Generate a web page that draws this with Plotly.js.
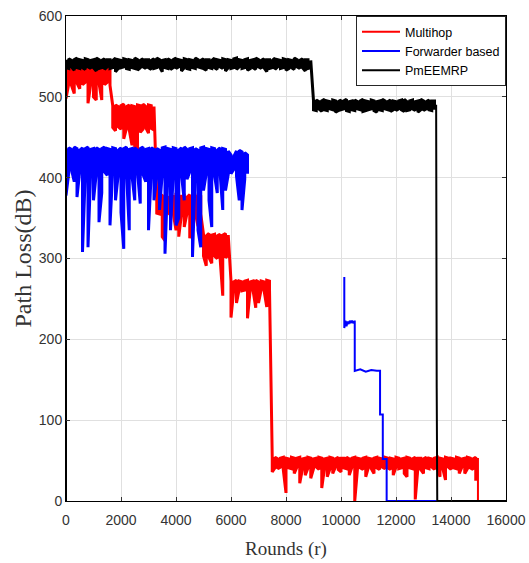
<!DOCTYPE html>
<html><head><meta charset="utf-8">
<script src="https://cdn.plot.ly/plotly-3.0.1.min.js"></script>
<style>html,body{margin:0;padding:0;background:#fff}#chart{width:529px;height:563px}</style>
</head><body><div id="chart"></div>
<script>
const seriesNames = ['Multihop', 'Forwarder based', 'PmEEMRP'];

const xTickValues = [0, 2000, 4000, 6000, 8000, 10000, 12000, 14000, 16000];
const xTickLabels = ['0', '2000', '4000', '6000', '8000', '10000', '12000', '14000', '16000'];
const yTickValues = [0, 100, 200, 300, 400, 500, 600];
const yTickLabels = ['0', '100', '200', '300', '400', '500', '600'];

// Noisy series are read as the highest and lowest path loss inside each 100-round bin.
const binRounds = 100;

// ---- Multihop ----
const multihopL1Start = 0;
const multihopL1High = [534,535,533,536,534,535,533,534,536,535,534,533,535,534,536,535,534];
const multihopL1Low  = [498,516,514,504,517,510,515,518,492,516,500,496,517,496,515,518,514];
const multihopL2Start = 1700;
const multihopL2High = [489,490,488,489,491,488,490,489,488,490,489,491,488,490,489,488];
const multihopL2Low  = [462,458,463,460,448,461,459,440,436,434,456,460,462,455,461,459];
const multihopL3Start = 3300;
const multihopL3High = [378,377,379,378,376,378,377,379,378,377,378,376,379,378,377,378,377];
const multihopL3Low  = [356,355,327,322,357,354,356,335,327,355,339,356,325,355,357,340,355];
const multihopL4Start = 5000;
const multihopL4High = [330,328,331,329,330,328,330,329,331,329];
const multihopL4Low  = [303,291,301,294,303,300,302,254,301,304];
const multihopL5Start = 6000;
const multihopL5High = [272,271,273,272,271,272,273,271,272,273,271,272,271,273,272];
const multihopL5Low  = [227,261,245,262,260,261,226,262,261,239,245,262,261,240,262];
const multihopL6Start = 7500;
const multihopL6High = [53,54,52,53,54,53,52,54,53,53,54,52,53,54,53,52,53,54,53,52,53,54,53,52,54,53,53,54,52,53,54,53,52,53,54,53,52,53,54,53,52,54,53,53,52,54,53,52,53,54,53,52,54,53,53,52,54,53,52,53,54,53,52,54,53,53,52,54,53,52,53,54,53,52,54];
const multihopL6Low  = [36,41,40,42,39,10,41,40,34,42,22,40,32,41,28,40,42,39,16,41,30,40,34,42,39,36,41,40,32,42,0,40,41,39,30,42,40,34,41,39,42,40,41,39,32,42,40,41,34,30,41,40,2,42,39,34,41,40,42,39,41,30,40,26,42,39,41,40,34,42,34,40,41,39,25];
const multihopEndRounds = [14900, 14980, 14980];
const multihopEndValues = [52, 52, 0];

// ---- Forwarder based ----
const forwarderL1Start = 0;
const forwarderL1High = [436,437,435,438,436,434,437,436,438,435,436,437,435,436,438,436,435,437,436,434,437,436,438,435,436,437,434,436,438,435,436,437,435,436,434,437,438,436,435,437,436,434,437,438,435,436,437,436,434,437,438,436,435,437,436,434,437,436,435,433,428,426,433,434,432,431,428];
const forwarderL1Low  = [378,406,410,395,376,408,308,404,314,409,372,405,345,381,407,403,341,409,372,404,357,312,406,335,402,372,407,368,404,395,335,406,372,401,360,405,306,398,335,404,341,350,403,372,398,407,302,404,335,314,384,405,372,339,403,381,407,360,384,404,405,410,402,372,360,398,405];
const forwarderL2Rounds = [10120,10120,10160,10200,10240,10280,10320,10360,10400,10440,10480,10500,10500,10700,10900,11100,11300,11420,11420,11520,11520,11660,11660,13480];
const forwarderL2Values = [277,214,223,216,222,219,223,221,223,220,222,222,161,163,160,162,161,161,107,107,52,52,0,0];

// ---- PmEEMRP ----
const pmeemrpStartRounds = [0, 0];
const pmeemrpStartValues = [0, 541];
const pmeemrpL1Start = 0;
const pmeemrpL1High = [546,547,545,546,548,546,545,547,546,545,546,548,546,545,547,546,546,545,548,546,545,547,546,546,545,548,546,545,547,546,546,545,547,548,546,545,546,547,545,546,548,546,545,547,546,546,545,548,546,545,547,546,546,545,548,546,545,547,546,546,545,547,548,546,545,546,547,545,546,548,546,545,547,546,546,545,548,546,545,547,546,546,545,548,546,545,547,546,546,545];
const pmeemrpL1Low  = [536,535,537,533,536,535,536,534,537,535,536,532,535,536,534,537,535,536,531,535,536,537,535,534,536,535,533,536,537,535,536,534,535,536,537,531,536,535,534,536,535,537,532,536,535,534,536,535,537,536,535,533,536,535,536,534,537,535,532,536,535,536,534,537,535,536,533,535,536,534,537,535,536,531,535,536,534,537,535,536,533,535,536,534,537,535,536,532,535,536];
const pmeemrpL2Start = 9000;
const pmeemrpL2High = [495,496,494,495,497,495,494,496,495,494,496,495,497,494,495,496,494,495,497,495,494,496,495,494,495,497,495,494,496,495,494,495,496,497,494,495,496,494,495,497,495,494,496,495,495];
const pmeemrpL2Low  = [484,483,485,482,484,483,485,484,481,483,484,485,483,482,484,483,485,484,482,483,484,485,483,481,484,483,485,484,482,484,483,485,484,482,483,484,485,483,481,484,483,485,484,483,484];
const pmeemrpEndRounds = [13400, 13460, 13480, 13500, 16000];
const pmeemrpEndValues = [489, 489, 140, 0, 0];

// Each bin is drawn as a vertical stroke from its high to its low value,
// alternating direction so consecutive bins join along the band edges.
function bins(start, step, high, low) {
  const x = [], y = [];
  high.forEach((h, i) => {
    const r = start + i * step;
    if (i % 2 === 0) { x.push(r, r); y.push(h, low[i]); }
    else { x.push(r, r); y.push(low[i], h); }
  });
  return { x, y };
}
function join(parts) {
  const x = [], y = [];
  parts.forEach((p, k) => {
    if (k > 0) { x.push(null); y.push(null); }
    x.push(...p.x); y.push(...p.y);
  });
  return { x, y };
}
function joinContinuous(parts) {
  const x = [], y = [];
  parts.forEach(p => { x.push(...p.x); y.push(...p.y); });
  return { x, y };
}

const redBand = joinContinuous([
  bins(multihopL1Start, binRounds, multihopL1High, multihopL1Low),
  bins(multihopL2Start, binRounds, multihopL2High, multihopL2Low),
  bins(multihopL3Start, binRounds, multihopL3High, multihopL3Low),
  bins(multihopL4Start, binRounds, multihopL4High, multihopL4Low),
  bins(multihopL5Start, binRounds, multihopL5High, multihopL5Low),
  bins(multihopL6Start, binRounds, multihopL6High, multihopL6Low)
]);
const redLine = { x: multihopEndRounds, y: multihopEndValues };
const blueBand = bins(forwarderL1Start, binRounds, forwarderL1High, forwarderL1Low);
const blueLine = { x: forwarderL2Rounds, y: forwarderL2Values };
const blackBand = joinContinuous([
  bins(pmeemrpL1Start, binRounds, pmeemrpL1High, pmeemrpL1Low),
  bins(pmeemrpL2Start, binRounds, pmeemrpL2High, pmeemrpL2Low)
]);
const blackLine = join([
  { x: pmeemrpStartRounds, y: pmeemrpStartValues },
  { x: pmeemrpEndRounds, y: pmeemrpEndValues }
]);

const colors = ['#ff0000', '#0000ff', '#000000'];
const bands = [redBand, blueBand, blackBand];
const lines = [redLine, blueLine, blackLine];
const traces = [];
seriesNames.forEach((name, i) => {
  traces.push({
    type: 'scatter', mode: 'lines', name: name, legendgroup: name, showlegend: false,
    x: bands[i].x, y: bands[i].y,
    line: { color: colors[i], width: 3, simplify: false }
  });
  traces.push({
    type: 'scatter', mode: 'lines', name: name, legendgroup: name, showlegend: true,
    x: lines[i].x, y: lines[i].y, connectgaps: false,
    line: { color: colors[i], width: 2, simplify: false }
  });
});

const tickFont = { family: 'Liberation Sans, Arial, sans-serif', size: 14, color: '#333' };
const serif = 'Liberation Serif, Times New Roman, serif';

const layout = {
  width: 529, height: 563,
  margin: { l: 66, r: 23, t: 16, b: 62 },
  paper_bgcolor: '#fff', plot_bgcolor: '#fff',
  showlegend: true,
  legend: {
    x: 1, xanchor: 'right', y: 1, yanchor: 'top', traceorder: 'normal',
    bgcolor: '#fff', bordercolor: '#262626', borderwidth: 1,
    itemwidth: 38,
    font: { family: 'Liberation Sans, Arial, sans-serif', size: 12.5, color: '#000' }
  },
  xaxis: {
    range: [0, 16000], tickmode: 'array', tickvals: xTickValues, ticktext: xTickLabels,
    ticks: 'inside', ticklen: 4, tickcolor: '#333', ticklabelstandoff: 6,
    showgrid: true, gridcolor: '#e0e0e0', zeroline: false,
    showline: true, linecolor: '#000', linewidth: 1, mirror: 'ticks',
    tickfont: tickFont,
    title: { text: 'Rounds (r)', font: { family: serif, size: 19, color: '#333' }, standoff: 14 }
  },
  yaxis: {
    range: [0, 600], tickmode: 'array', tickvals: yTickValues, ticktext: yTickLabels,
    ticks: 'inside', ticklen: 4, tickcolor: '#333',
    showgrid: true, gridcolor: '#e0e0e0', zeroline: false,
    showline: true, linecolor: '#000', linewidth: 1, mirror: 'ticks',
    tickfont: tickFont,
    title: { text: 'Path Loss(dB)', font: { family: serif, size: 24, color: '#333' }, standoff: 0 }
  }
};

Plotly.newPlot('chart', traces, layout, { displayModeBar: false, staticPlot: true });
</script>
</body></html>
